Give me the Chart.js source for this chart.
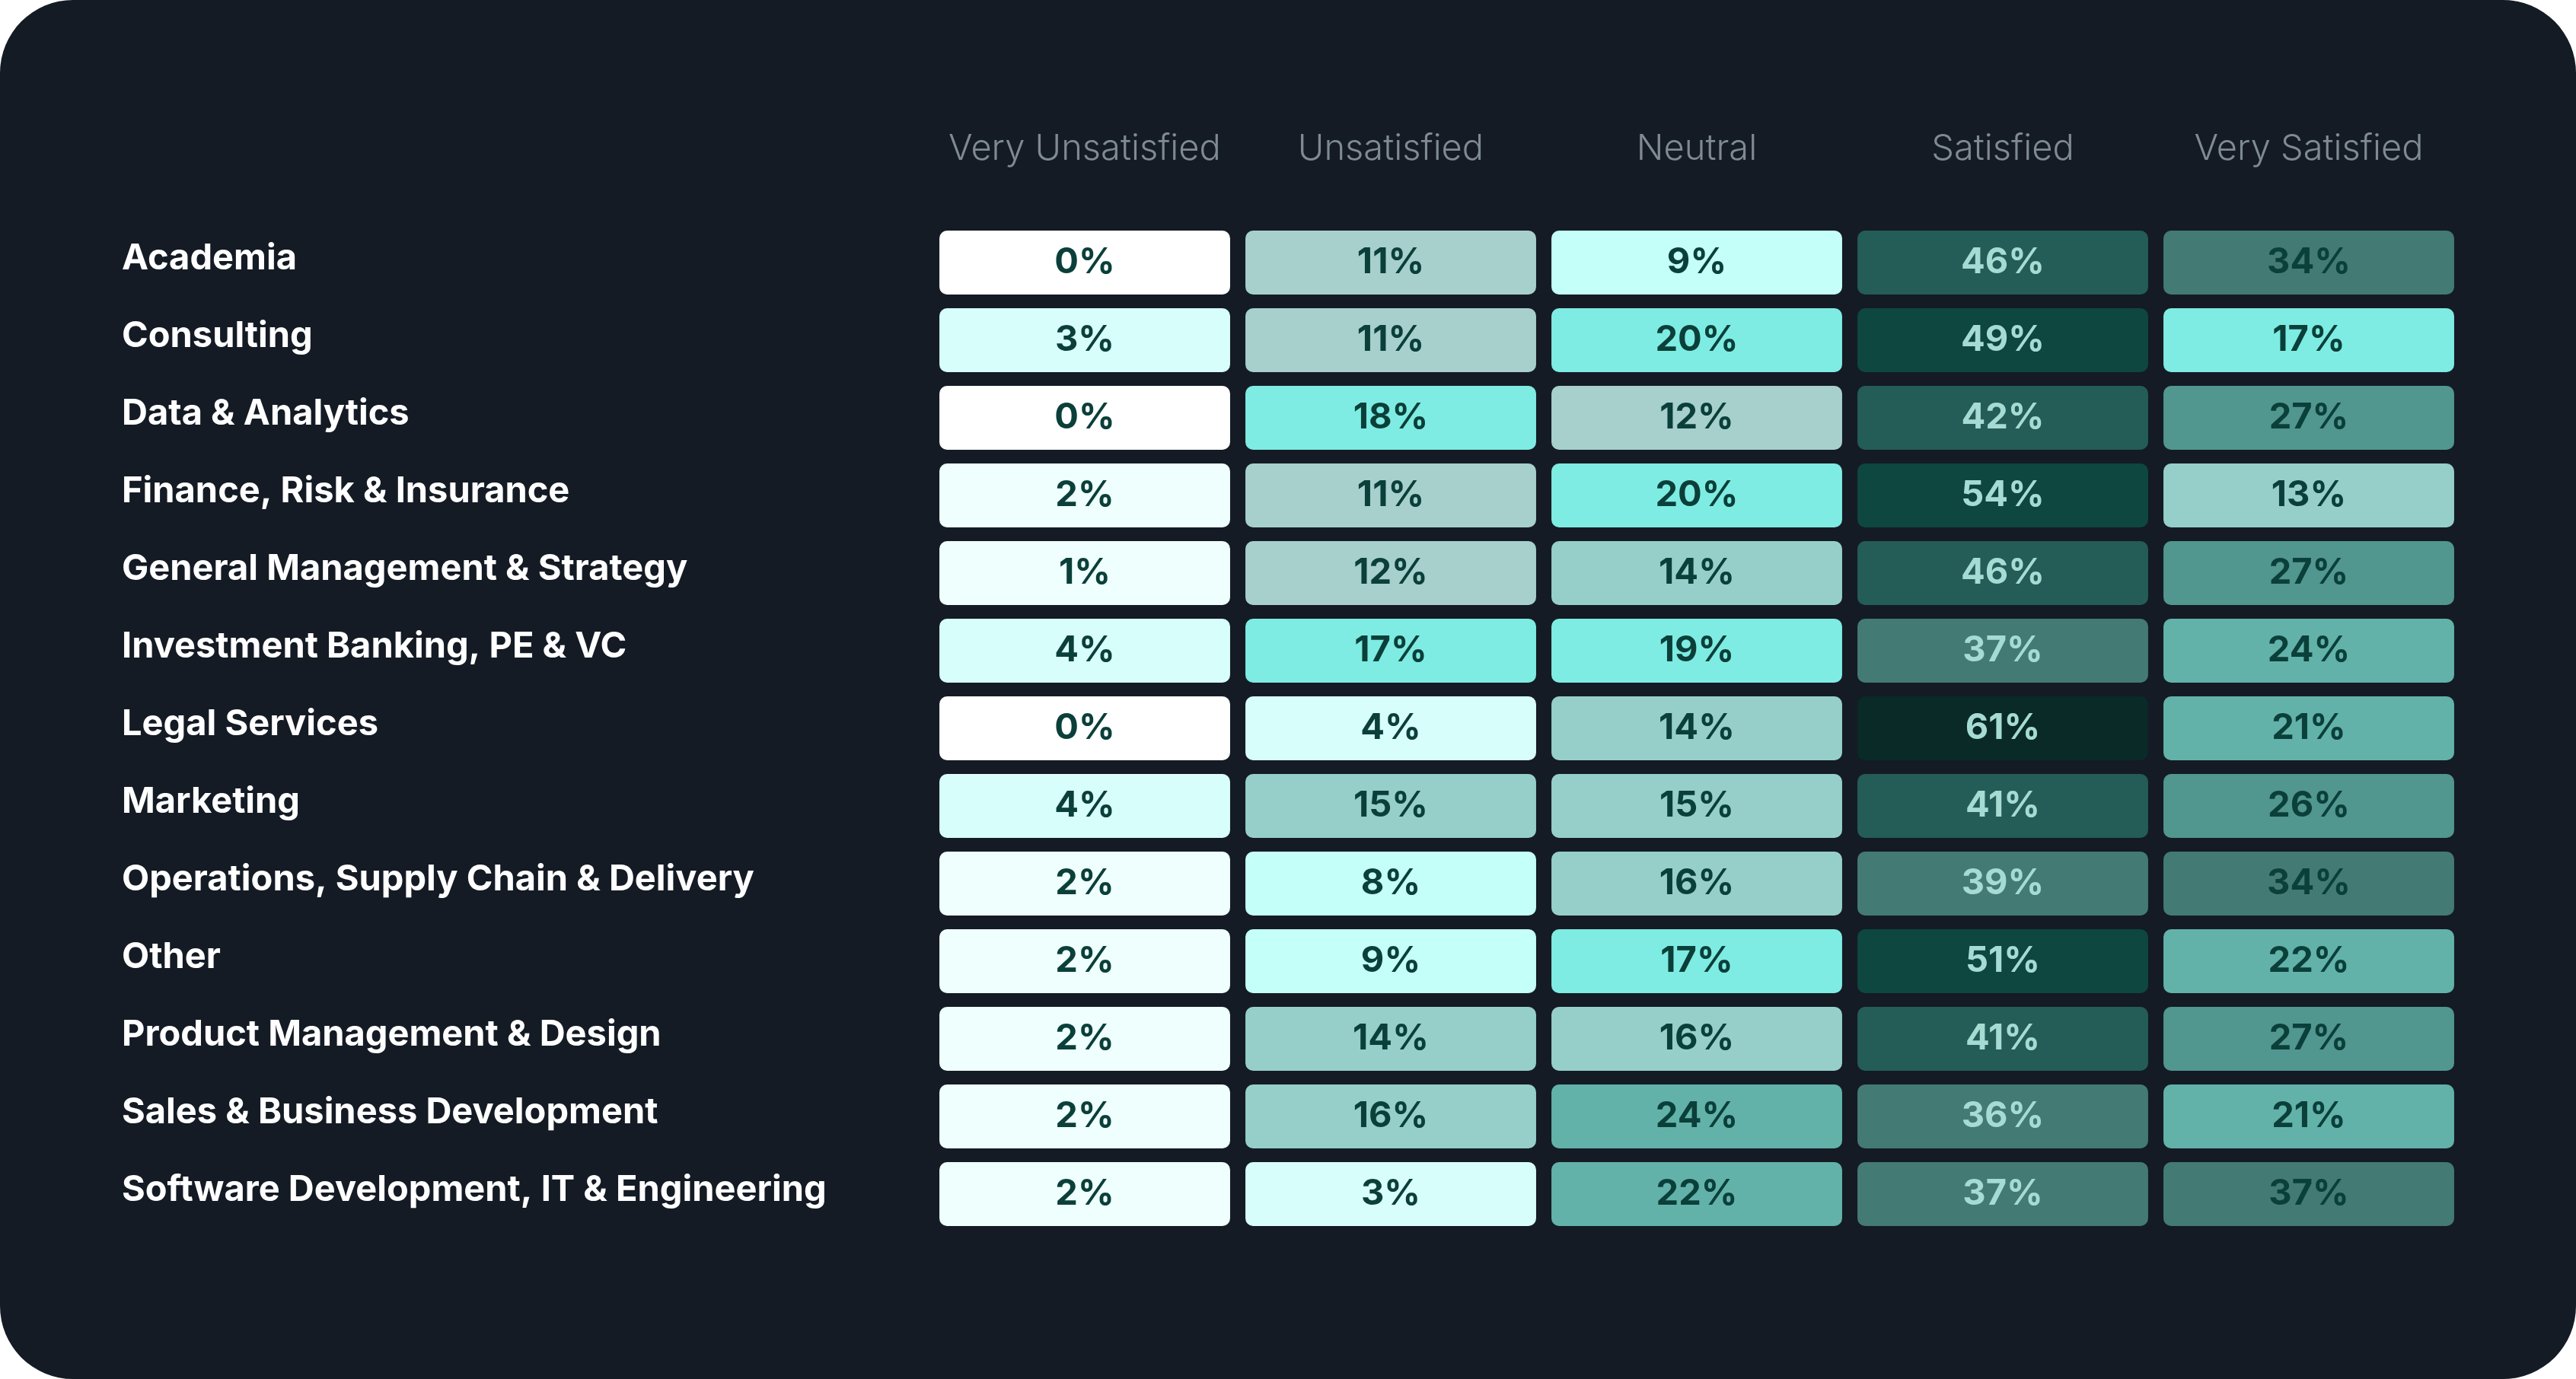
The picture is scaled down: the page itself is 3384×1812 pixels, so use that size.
<!DOCTYPE html>
<html>
<head>
<meta charset="utf-8">
<script src="https://cdn.jsdelivr.net/npm/chart.js@4.4.1/dist/chart.umd.min.js"></script>
<style>
  html, body { margin: 0; padding: 0; background: #ffffff; }
  #wrap { width: 3384px; height: 1812px; background: #141b25; border-radius: 96px; overflow: hidden; }
  canvas { display: block; }
</style>
</head>
<body>
<div id="wrap"><canvas id="myChart" width="3384" height="1812"></canvas></div>
<script>
// satisfaction by industry, in percent
var industries = ['Academia', 'Consulting', 'Data & Analytics', 'Finance, Risk & Insurance',
	'General Management & Strategy', 'Investment Banking, PE & VC', 'Legal Services', 'Marketing',
	'Operations, Supply Chain & Delivery', 'Other', 'Product Management & Design',
	'Sales & Business Development', 'Software Development, IT & Engineering'];
var columns = ['Very Unsatisfied', 'Unsatisfied', 'Neutral', 'Satisfied', 'Very Satisfied'];

var veryUnsatisfied = [0, 3, 0, 2, 1, 4, 0, 4, 2, 2, 2, 2, 2];
var unsatisfied     = [11, 11, 18, 11, 12, 17, 4, 15, 8, 9, 14, 16, 3];
var neutral         = [9, 20, 12, 20, 14, 19, 14, 15, 16, 17, 16, 24, 22];
var satisfied       = [46, 49, 42, 54, 46, 37, 61, 41, 39, 51, 41, 36, 37];
var verySatisfied   = [34, 17, 27, 13, 27, 24, 21, 26, 34, 22, 27, 21, 37];

var series = [veryUnsatisfied, unsatisfied, neutral, satisfied, verySatisfied];

// colour steps: value up to "max" gets that colour
var steps = [
	{ max: 0, color: '#ffffff' },
	{ max: 2, color: '#effffd' },
	{ max: 4, color: '#d8fefb' },
	{ max: 9, color: '#c5fff9' },
	{ max: 12, color: '#a7d0cd' },
	{ max: 16, color: '#96cfca' },
	{ max: 20, color: '#7eece2' },
	{ max: 24, color: '#62b2aa' },
	{ max: 29, color: '#51968f' },
	{ max: 39, color: '#437a73' },
	{ max: 48, color: '#245c57' },
	{ max: 59, color: '#0e4640' },
	{ max: 100, color: '#092a27' }
];
function cellColor(v) {
	for (var i = 0; i < steps.length; i++) {
		if (v <= steps[i].max) return steps[i].color;
	}
	return steps[steps.length - 1].color;
}

var gap = 0.025;
var ds = [];
for (var c = 0; c < series.length; c++) {
	var vals = series[c];
	ds.push({
		label: columns[c],
		data: vals.map(function () { return [c + gap, c + 1 - gap]; }),
		values: vals,
		textColor: c === 3 ? '#a6dbd4' : '#0b3f3a',
		backgroundColor: vals.map(cellColor),
		borderRadius: 10,
		borderSkipped: false,
		borderWidth: 0,
		grouped: false,
		categoryPercentage: 1,
		barPercentage: 0.824
	});
}

var cellText = {
	id: 'cellText',
	afterDatasetsDraw: function (chart) {
		var ctx = chart.ctx;
		ctx.save();
		ctx.font = '700 47px Inter';
		ctx.textAlign = 'center';
		ctx.textBaseline = 'middle';
		chart.data.datasets.forEach(function (d, i) {
			var meta = chart.getDatasetMeta(i);
			meta.data.forEach(function (el, j) {
				var p = el.getCenterPoint();
				ctx.fillStyle = d.textColor;
				ctx.fillText(d.values[j] + '%', p.x, p.y);
			});
		});
		ctx.restore();
	}
};

var ctx = document.getElementById('myChart').getContext('2d');
new Chart(ctx, {
	type: 'bar',
	data: { labels: industries, datasets: ds },
	plugins: [cellText],
	options: {
		indexAxis: 'y',
		responsive: false,
		devicePixelRatio: 1,
		animation: false,
		layout: { padding: { left: 160, right: 150, top: 0, bottom: 192 } },
		plugins: { legend: { display: false }, tooltip: { enabled: false } },
		scales: {
			x: {
				type: 'linear',
				position: 'top',
				min: 0,
				max: 5,
				grid: { display: false, drawTicks: false },
				border: { display: false },
				afterBuildTicks: function (s) {
					s.ticks = columns.map(function (_, i) { return { value: i + 0.5 }; });
				},
				afterFit: function (s) { s.height = 294; },
				ticks: {
					autoSkip: false,
					maxRotation: 0,
					padding: 70,
					color: '#7f8a94',
					font: { family: 'Inter', size: 47, weight: '300' },
					callback: function (v, i) { return columns[i]; }
				}
			},
			y: {
				type: 'category',
				grid: { display: false, drawTicks: false },
				border: { display: false },
				afterFit: function (s) { s.width = 1064; },
				ticks: {
					crossAlign: 'far',
					padding: 0,
					labelOffset: -5,
					color: '#ffffff',
					font: { family: 'Inter', size: 47, weight: '700' }
				}
			}
		}
	}
});
</script>
</body>
</html>
